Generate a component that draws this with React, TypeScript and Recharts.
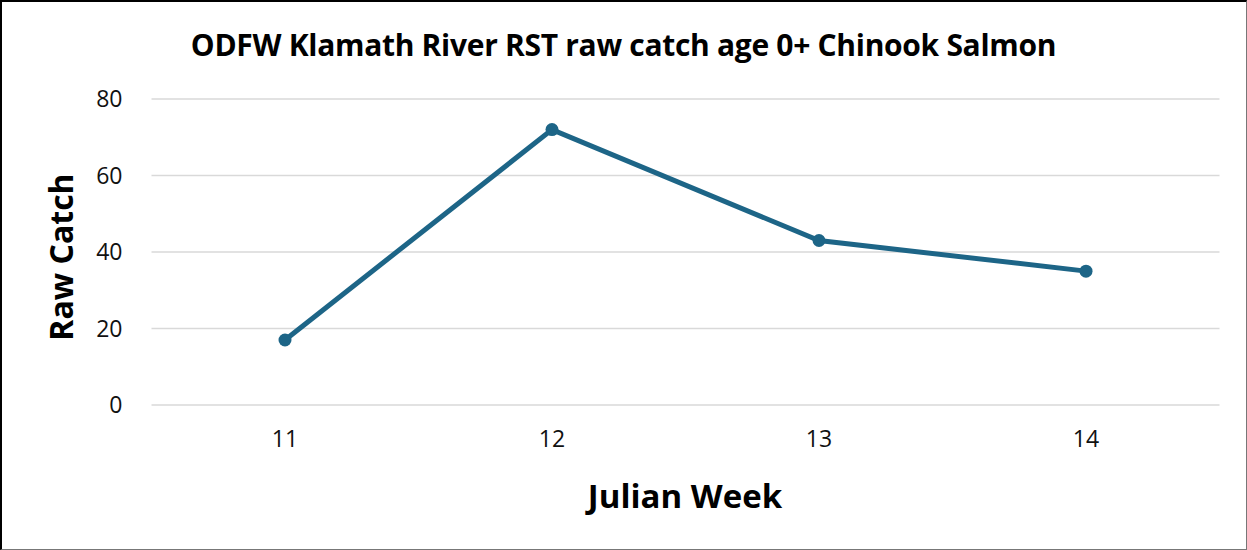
import { CartesianGrid, Line, LineChart, XAxis, YAxis } from "recharts"

const weeks = ["11", "12", "13", "14"]
const rawCatch = [17, 72, 43, 35]
const yTicks = [0, 20, 40, 60, 80]

const data = weeks.map((week, i) => ({ week, catch: rawCatch[i] }))

const lineColor = "#1d6587"
const font = "'Open Sans', 'Noto Sans', sans-serif"

export default function App() {
  return (
    <div style={{ position: "relative", width: 1247, height: 550, background: "#fff", fontFamily: font }}>
      <style>{"body{margin:0}"}</style>
      <LineChart
        width={1247}
        height={550}
        data={data}
        margin={{ top: 99, right: 27.5, bottom: 115, left: 0 }}
      >
        <CartesianGrid vertical={false} stroke="#d9d9d9" strokeWidth={1.5} />
        <XAxis
          dataKey="week"
          height={30}
          padding={{ left: 133.5, right: 133.5 }}
          axisLine={false}
          tickLine={false}
          tickSize={0}
          tickMargin={26}
          tick={{ fill: "#111", fontSize: 23, fontFamily: font }}
        />
        <YAxis
          width={151.5}
          domain={[0, 80]}
          ticks={yTicks}
          axisLine={false}
          tickLine={false}
          tickSize={0}
          tickMargin={29}
          tick={{ fill: "#111", fontSize: 23, fontFamily: font }}
        />
        <Line
          type="linear"
          dataKey="catch"
          stroke={lineColor}
          strokeWidth={5}
          dot={{ r: 6.5, fill: lineColor, stroke: lineColor, strokeWidth: 0 }}
          isAnimationActive={false}
        />
      </LineChart>
      <div
        style={{
          position: "absolute",
          left: 0,
          width: 1247,
          top: 25,
          textAlign: "center",
          fontWeight: 700,
          fontSize: 30,
          letterSpacing: -0.3,
          lineHeight: "40px",
          color: "#000",
          boxSizing: "border-box",
        }}
      >
        ODFW Klamath River RST raw catch age 0+ Chinook Salmon
      </div>
      <div
        style={{
          position: "absolute",
          left: 60,
          top: 257,
          transform: "translate(-50%, -50%) rotate(-90deg)",
          whiteSpace: "nowrap",
          fontWeight: 700,
          fontSize: 32,
          color: "#000",
        }}
      >
        Raw Catch
      </div>
      <div
        style={{
          position: "absolute",
          left: 685,
          top: 495,
          transform: "translate(-50%, -50%)",
          whiteSpace: "nowrap",
          fontWeight: 700,
          fontSize: 33,
          color: "#000",
        }}
      >
        Julian Week
      </div>
      <div
        style={{
          position: "absolute",
          inset: 0,
          borderTop: "2px solid #000",
          borderLeft: "2px solid #000",
          borderRight: "1.5px solid #777",
          borderBottom: "1.5px solid #777",
          pointerEvents: "none",
        }}
      />
    </div>
  )
}
